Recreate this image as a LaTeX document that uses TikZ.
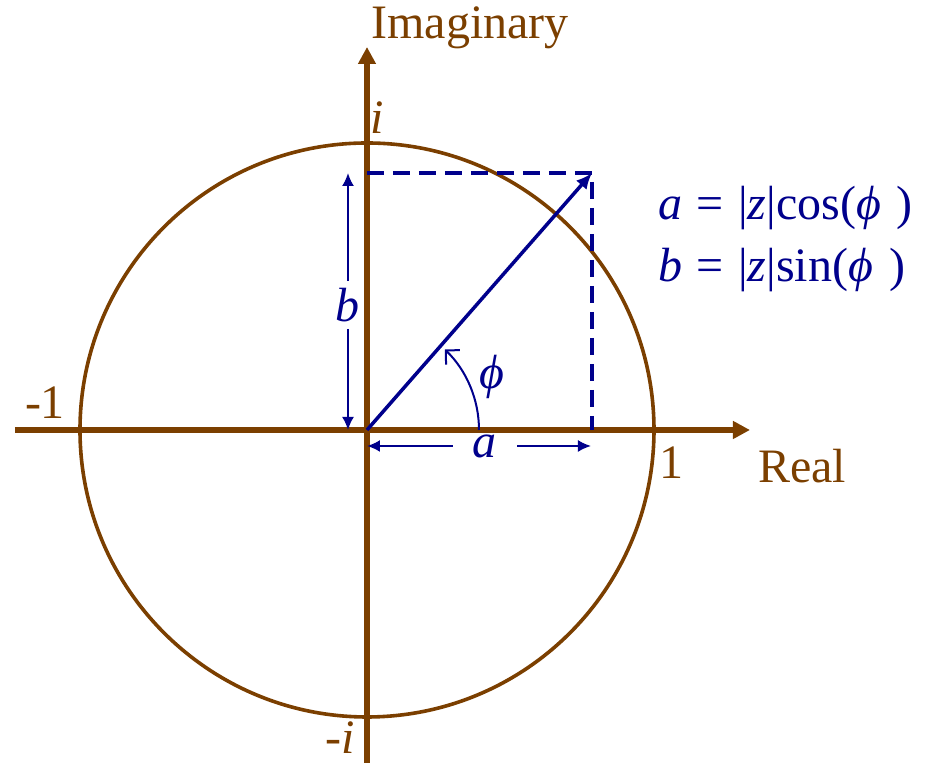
\documentclass[tikz,border=0pt]{standalone}
\usepackage{fontspec}
\setmainfont{Liberation Serif}
\usetikzlibrary{arrows.meta}
\definecolor{axisbrown}{RGB}{123,63,0}
\definecolor{vecblue}{RGB}{0,0,140}
\newcommand{\eqsign}{\hspace{0.3em}=\hspace{0.3em}}

\begin{document}
\begin{tikzpicture}[x=0.5pt,y=0.5pt,>={Latex[length=6.5pt,width=6pt]},
  font=\fontsize{24}{29}\selectfont]
  \useasboundingbox (-367,-333) rectangle (566,430);
  % Points
  \coordinate (O) at (0,0);
  \coordinate (P) at (225,257);
  \coordinate (Px) at (225,0);
  \coordinate (Py) at (0,257);
  \coordinate (xmin) at (-352,0);
  \coordinate (xmax) at (383,0);
  \coordinate (ymin) at (0,-333);
  \coordinate (ymax) at (0,383);
  % Draw unit circle and axes
  \draw[axisbrown,line width=1.8pt] (O) circle[radius=287];
  \draw[axisbrown,line width=2.6pt,-{Triangle[length=8.5pt,width=8.5pt]}] (xmin) -- (xmax);
  \draw[axisbrown,line width=2.6pt,-{Triangle[length=8.5pt,width=8.5pt]}] (ymin) -- (ymax);
  \node[axisbrown] (imag) at (103,402) {Imaginary};
  \node[axisbrown] (real) at (435,-36) {Real};
  \node[axisbrown] (one) at (305,-33) {1};
  \node[axisbrown] (mone) at (-322,27) {-1};
  \node[axisbrown] (iunit) at (10,312) {\itshape i};
  \node[axisbrown] (miunit) at (-27,-308) {-{\itshape i}};
  % Draw the vector and its projections
  \draw[vecblue,line width=1.75pt,dash pattern=on 8.5pt off 4.5pt] (Py) -- (P) -- (Px);
  \draw[vecblue,line width=1.75pt,->,>={Latex[length=8pt,width=7pt]}] (O) -- (P);
  % Lengths a and b
  \coordinate (bt) at (-19,257);
  \coordinate (bb) at (-19,0);
  \node[vecblue] (blab) at (-19,125) {\itshape b};
  \draw[vecblue,line width=1pt,->] (blab) -- (bt);
  \draw[vecblue,line width=1pt,->] (blab) -- (bb);
  \coordinate (al) at (0,-16);
  \coordinate (ar) at (224,-16);
  \node[vecblue,inner xsep=10pt] (alab) at (118,-16) {\itshape a};
  \draw[vecblue,line width=1pt,->] (alab) -- (al);
  \draw[vecblue,line width=1pt,->] (alab) -- (ar);
  % Angle phi
  \draw[vecblue,line width=1pt,-{Straight Barb[length=5pt,width=10pt]}] (112,0) arc[start angle=0,end angle=46,radius=112];
  \node[vecblue] (philab) at (125,53) {\itshape ϕ};
  % Formulas
  \node[vecblue,anchor=base west,inner sep=0pt] (fa) at (291,210) {{\itshape a}\eqsign|{\itshape z}|cos({\itshape ϕ}\,\,)};
  \node[vecblue,anchor=base west,inner sep=0pt] (fb) at (291,148) {{\itshape b}\eqsign|{\itshape z}|sin({\itshape ϕ}\,\,)};
\end{tikzpicture}
\end{document}
